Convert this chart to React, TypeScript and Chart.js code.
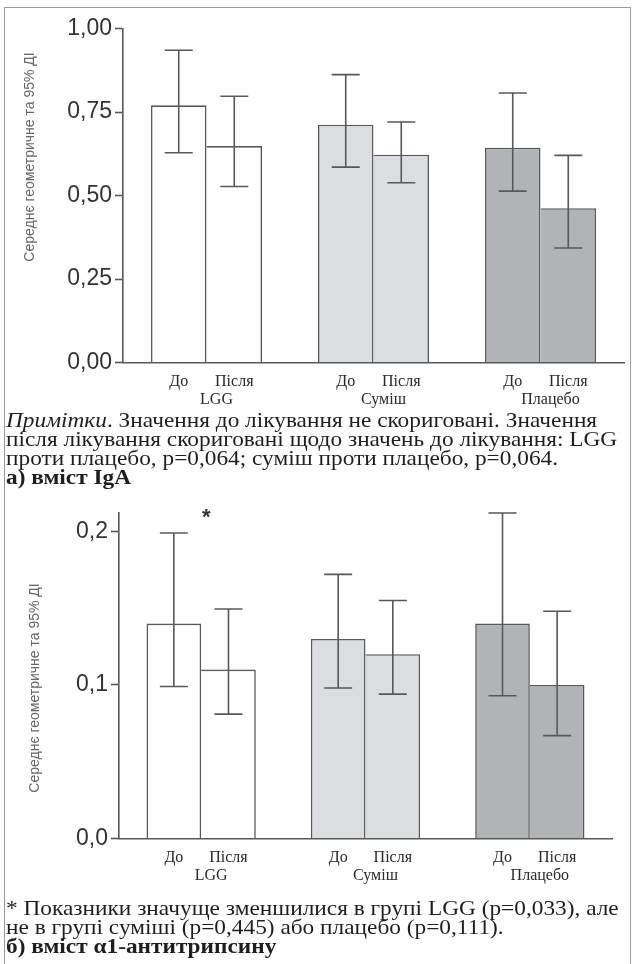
import React, { useEffect, useRef } from "react";
import { Chart, registerables } from "chart.js";

Chart.register(...registerables);

// ---- data ----
const groups = ["LGG", "Суміш", "Плацебо"];
const periods = ["До", "Після"];
const groupColors = ["#ffffff", "#dcdde0", "#b1b3b6"];

// a) IgA
const igaBefore = [0.77, 0.712, 0.643];
const igaAfter = [0.648, 0.622, 0.462];
const igaBeforeLow = [0.628, 0.585, 0.513];
const igaBeforeHigh = [0.935, 0.862, 0.807];
const igaAfterLow = [0.527, 0.538, 0.343];
const igaAfterHigh = [0.797, 0.72, 0.62];
const igaTicks = [0, 0.25, 0.5, 0.75, 1.0];

// б) alpha1-antitrypsin
const aatBefore = [0.14, 0.13, 0.14];
const aatAfter = [0.11, 0.12, 0.1];
const aatBeforeLow = [0.099, 0.098, 0.093];
const aatBeforeHigh = [0.199, 0.172, 0.212];
const aatAfterLow = [0.081, 0.094, 0.067];
const aatAfterHigh = [0.1495, 0.155, 0.148];
const aatTicks = [0, 0.1, 0.2];

const yTitle = "Середнє геометричне та 95% ДІ";
const AX = "#585858";

type Opts = {
  before: number[];
  after: number[];
  lows: number[][];
  highs: number[][];
  ticks: number[];
  max: number;
  decimals: number;
  padding: { left: number; top: number; right: number; bottom: number };
  yWidth: number;
  titlePos: [number, number];
  star?: { group: number; dx: number; value: number };
};

function buildConfig(o: Opts): any {
  const overlay = {
    id: "overlay",
    afterDatasetsDraw(chart: any) {
      const ctx = chart.ctx;
      const y = chart.scales.y;
      ctx.save();
      ctx.strokeStyle = AX;
      ctx.lineWidth = 1.6;
      for (let d = 0; d < 2; d++) {
        const meta = chart.getDatasetMeta(d);
        meta.data.forEach((el: any, i: number) => {
          const yl = y.getPixelForValue(o.lows[d][i]);
          const yh = y.getPixelForValue(o.highs[d][i]);
          const x = el.x;
          const cw = 14;
          ctx.beginPath();
          ctx.moveTo(x, yl);
          ctx.lineTo(x, yh);
          ctx.moveTo(x - cw, yh);
          ctx.lineTo(x + cw, yh);
          ctx.moveTo(x - cw, yl);
          ctx.lineTo(x + cw, yl);
          ctx.stroke();
        });
      }
      ctx.restore();
    },
    afterDraw(chart: any) {
      const ctx = chart.ctx;
      const area = chart.chartArea;
      const m0 = chart.getDatasetMeta(0);
      const m1 = chart.getDatasetMeta(1);
      ctx.save();
      ctx.fillStyle = "#2a2a2a";
      ctx.textAlign = "center";
      ctx.textBaseline = "middle";
      ctx.font = '16px "Liberation Serif"';
      for (let i = 0; i < groups.length; i++) {
        const x0 = m0.data[i].x;
        const x1 = m1.data[i].x;
        ctx.fillText(periods[0], x0, area.bottom + 19);
        ctx.fillText(periods[1], x1, area.bottom + 19);
        ctx.fillText(groups[i], (x0 + x1) / 2 + 10, area.bottom + 37);
      }
      // y title
      ctx.save();
      ctx.translate(o.titlePos[0], o.titlePos[1]);
      ctx.rotate(-Math.PI / 2);
      ctx.fillStyle = "#666";
      ctx.font = '14px "Liberation Sans"';
      ctx.fillText(yTitle, 0, 0);
      ctx.restore();
      if (o.star) {
        const sx = m0.data[o.star.group].x + (m1.data[o.star.group].x - m0.data[o.star.group].x) / 2 + o.star.dx;
        const sy = chart.scales.y.getPixelForValue(o.star.value);
        ctx.fillStyle = "#333";
        ctx.font = 'bold 22px "Liberation Sans"';
        ctx.fillText("*", sx, sy + 2);
      }
      ctx.restore();
    },
  };

  const bw = 1.6;
  return {
    type: "bar",
    data: {
      labels: groups,
      datasets: [
        {
          label: periods[0],
          data: o.before,
          backgroundColor: groupColors,
          borderColor: AX,
          borderWidth: { top: bw, left: bw, right: bw, bottom: 0 },
          categoryPercentage: 0.665,
          barPercentage: 1,
        },
        {
          label: periods[1],
          data: o.after,
          backgroundColor: groupColors,
          borderColor: AX,
          borderWidth: { top: bw, left: 0, right: bw, bottom: 0 },
          categoryPercentage: 0.665,
          barPercentage: 1,
        },
      ],
    },
    options: {
      animation: false,
      responsive: false,
      maintainAspectRatio: false,
      layout: { padding: o.padding },
      plugins: { legend: { display: false }, tooltip: { enabled: false } },
      scales: {
        x: {
          ticks: { display: false },
          grid: { display: false },
          border: { display: true, color: AX, width: 1.6 },
          afterFit: (s: any) => {
            s.height = 0;
          },
        },
        y: {
          min: 0,
          max: o.max,
          afterBuildTicks: (s: any) => {
            s.ticks = o.ticks.map((v) => ({ value: v }));
          },
          ticks: {
            color: "#333",
            padding: 3,
            font: { family: '"Liberation Sans"', size: 23 },
            callback: (v: any) => Number(v).toFixed(o.decimals).replace(".", ","),
          },
          grid: {
            display: true,
            drawOnChartArea: false,
            drawTicks: true,
            tickLength: 8,
            tickWidth: 1.6,
            tickColor: AX,
          },
          border: { display: true, color: AX, width: 1.6 },
          afterFit: (s: any) => {
            s.width = o.yWidth;
          },
        },
      },
    },
    plugins: [overlay],
  };
}

function BarChart({ opts, top, height }: { opts: Opts; top: number; height: number }) {
  const ref = useRef<HTMLCanvasElement | null>(null);
  useEffect(() => {
    if (!ref.current) return;
    const chart = new Chart(ref.current, buildConfig(opts));
    return () => chart.destroy();
  }, []);
  return (
    <canvas
      ref={ref}
      width={632}
      height={height}
      style={{ position: "absolute", left: 0, top, width: 632, height }}
    />
  );
}

const textStyle: React.CSSProperties = {
  position: "absolute",
  left: 6,
  whiteSpace: "nowrap",
  fontFamily: '"Liberation Serif", serif',
  fontSize: 22,
  lineHeight: "19px",
  color: "#1e1e1e",
  transform: "scaleX(1.06)",
  transformOrigin: "left center",
};

function Line({ y, children, bold }: { y: number; children: React.ReactNode; bold?: boolean }) {
  return <div style={{ ...textStyle, top: y - 9.5, fontWeight: bold ? "bold" : "normal" }}>{children}</div>;
}

export default function App() {
  const igaOpts: Opts = {
    before: igaBefore,
    after: igaAfter,
    lows: [igaBeforeLow, igaAfterLow],
    highs: [igaBeforeHigh, igaAfterHigh],
    ticks: igaTicks,
    max: 1.0,
    decimals: 2,
    padding: { left: 0, top: 28.5, right: 8, bottom: 57.5 },
    yWidth: 123,
    titlePos: [30, 157],
  };
  const aatOpts: Opts = {
    before: aatBefore,
    after: aatAfter,
    lows: [aatBeforeLow, aatAfterLow],
    highs: [aatBeforeHigh, aatAfterHigh],
    ticks: aatTicks,
    max: 0.212,
    decimals: 1,
    padding: { left: 0, top: 33, right: 20, bottom: 61.5 },
    yWidth: 119,
    titlePos: [35, 208],
    star: { group: 0, dx: 5, value: 0.21 },
  };
  return (
    <div style={{ position: "absolute", left: 0, top: 0, width: 632, height: 964, background: "#fff", overflow: "hidden" }}>
      <div
        style={{
          position: "absolute",
          left: 4,
          top: 7,
          width: 625,
          height: 1000,
          borderLeft: "1px solid #9a9a9a",
          borderTop: "1px solid #9a9a9a",
          borderRight: "1px solid #9a9a9a",
        }}
      />
      <BarChart opts={igaOpts} top={0} height={420} />
      <Line y={419}>
        <i>Примітки</i>. Значення до лікування не скориговані. Значення
      </Line>
      <Line y={438}>після лікування скориговані щодо значень до лікування: LGG</Line>
      <Line y={457}>проти плацебо, р=0,064; суміш проти плацебо, р=0,064.</Line>
      <Line y={476} bold>
        а) вміст IgA
      </Line>
      <BarChart opts={aatOpts} top={480} height={420} />
      <Line y={907}>* Показники значуще зменшилися в групі LGG (р=0,033), але</Line>
      <Line y={926}>не в групі суміші (р=0,445) або плацебо (р=0,111).</Line>
      <Line y={945} bold>
        б) вміст α1-антитрипсину
      </Line>
    </div>
  );
}
